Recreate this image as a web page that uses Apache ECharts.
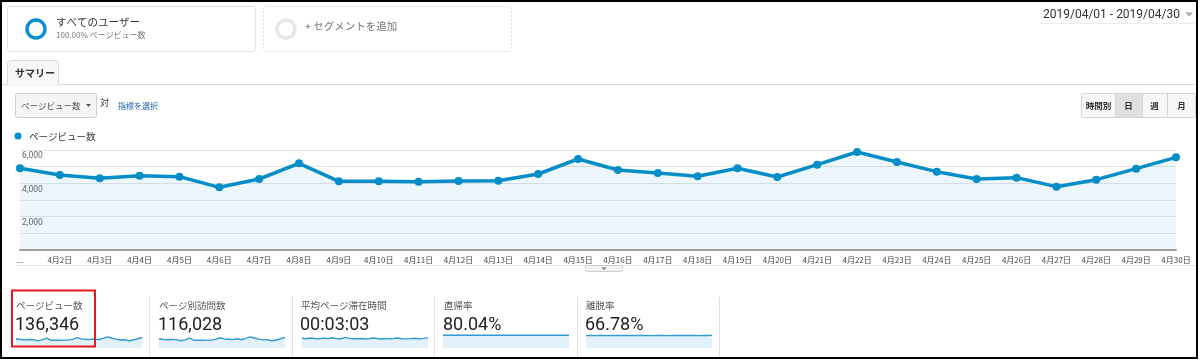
<!DOCTYPE html>
<html><head><meta charset="utf-8">
<script src="https://cdn.jsdelivr.net/npm/echarts@6/dist/echarts.min.js"></script>
<style>html,body{margin:0;padding:0;background:#fff}#c{width:1200px;height:360px}</style>
</head><body><div id="c"></div>
<script>
// ---- data ----
var days = ['4月1日','4月2日','4月3日','4月4日','4月5日','4月6日','4月7日','4月8日','4月9日','4月10日',
  '4月11日','4月12日','4月13日','4月14日','4月15日','4月16日','4月17日','4月18日','4月19日','4月20日',
  '4月21日','4月22日','4月23日','4月24日','4月25日','4月26日','4月27日','4月28日','4月29日','4月30日'];
var pageViews = [4900,4500,4300,4460,4400,3760,4260,5200,4120,4120,
  4100,4140,4160,4560,5460,4800,4620,4420,4900,4380,
  5120,5880,5280,4700,4260,4340,3800,4220,4880,5560];
var uniquePageViews = [4150,3840,3680,3800,3760,3240,3640,4400,3510,3500,
  3490,3530,3550,3880,4620,4080,3930,3770,4160,3730,
  4350,4980,4480,4010,3640,3700,3250,3600,4150,4720];
var avgTimeSec = [185,176,190,180,172,186,178,195,178,175,
  200,182,176,174,180,168,188,184,170,176,
  172,180,190,176,172,178,185,176,182,192];
var bounceRate = [79.8,80.0,80.1,80.0,79.9,80.1,80.0,80.2,80.0,79.9,
  80.0,80.1,80.0,80.1,80.0,79.9,80.0,80.1,80.0,79.9,
  80.0,80.1,80.0,80.1,80.0,80.2,80.1,80.3,80.4,80.5];
var exitRate = [66.2,66.8,66.5,67.0,66.9,66.4,66.8,67.2,66.6,66.8,
  66.7,66.9,66.6,67.0,66.8,66.5,66.7,67.1,66.6,66.4,
  66.7,66.9,66.6,66.8,67.3,66.9,66.5,66.7,67.0,67.4];
var yTicks = [0,2000,4000,6000];
var cardTitles = ['ページビュー数','ページ別訪問数','平均ページ滞在時間','直帰率','離脱率'];
var cardValues = ['136,346','116,028','00:03:03','80.04%','66.78%'];
var periodButtons = ['時間別','日','週','月'];

// ---- layout ----
var FONT = "Roboto, 'Noto Sans CJK JP', sans-serif";
var JP = "'Noto Sans CJK JP', Roboto, sans-serif";
var BLUE = '#058dc7';
var sparkData = [pageViews, uniquePageViews, avgTimeSec, bounceRate, exitRate];
var sparkMax = [7400, 6300, 265, 88, 75];
var sparkLeft = [16, 159, 302, 443, 586];
var cardX = [15, 158, 300, 443, 585];
var sepX = [149, 292, 434, 577, 719];

var grids = [{left: 20, right: 24, top: 150, bottom: 110}];
var xAxes = [{
  type: 'category', data: days, boundaryGap: false, gridIndex: 0,
  axisLine: {lineStyle: {color: '#a0a0a0', width: 2}},
  axisTick: {show: false},
  axisLabel: {interval: 0, fontSize: 8, color: '#444', fontFamily: JP, margin: 6,
    formatter: function (v, i) { return i === 0 ? '...' : v; }}
}];
var yAxes = [{
  type: 'value', min: 0, max: 6000, interval: 1000, gridIndex: 0,
  axisLine: {show: false}, axisTick: {show: false},
  splitLine: {lineStyle: {color: '#e4e4e4'}},
  axisLabel: {inside: true, margin: 2, verticalAlign: 'top', padding: [2,0,0,0],
    fontSize: 8.5, color: '#666', fontFamily: FONT, showMinLabel: false,
    formatter: function (v) { return yTicks.indexOf(v) > 0 ? v.toLocaleString('en-US') : ''; }}
}];
var series = [{
  type: 'line', data: pageViews, xAxisIndex: 0, yAxisIndex: 0,
  symbol: 'circle', symbolSize: 8, showSymbol: true,
  lineStyle: {color: BLUE, width: 3.5}, itemStyle: {color: BLUE},
  areaStyle: {color: 'rgba(5,141,199,0.1)'}, silent: true, animation: false
}];
for (var i = 0; i < 5; i++) {
  grids.push({left: sparkLeft[i], width: 126, top: 334, height: 14});
  xAxes.push({type: 'category', gridIndex: i + 1, data: days, boundaryGap: false, show: false});
  yAxes.push({type: 'value', gridIndex: i + 1, min: 0, max: sparkMax[i], show: false, splitLine: {show: false}});
  series.push({type: 'line', data: sparkData[i], xAxisIndex: i + 1, yAxisIndex: i + 1,
    showSymbol: false, lineStyle: {color: '#2f9ad5', width: 1.4},
    areaStyle: {color: '#e2f1f9', opacity: 1}, silent: true, animation: false});
}

function txt(x, y, t, size, color, opts) {
  opts = opts || {};
  return {type: 'text', z: 25, style: {x: x, y: y, text: t, fill: color,
    font: (opts.weight || 'normal') + ' ' + size + 'px ' + (opts.family || JP),
    textAlign: opts.align || 'left', textVerticalAlign: 'middle'}};
}
var g = [];
// outer border
g.push({type: 'rect', z: 20, shape: {x: 1, y: 1, width: 1196, height: 357}, style: {fill: 'none', stroke: '#000', lineWidth: 2}});
// segment boxes
g.push({type: 'rect', z: 5, shape: {x: 7.5, y: 6.5, width: 248, height: 45, r: 3}, style: {fill: '#fff', stroke: '#e2e2e2', lineWidth: 1}});
g.push({type: 'circle', z: 10, shape: {cx: 36, cy: 29, r: 9}, style: {fill: 'none', stroke: '#0b8fcf', lineWidth: 3.5}});
g.push(txt(56, 22, 'すべてのユーザー', 10.5, '#333'));
g.push(txt(56, 34.5, '100.00% ページビュー数', 8, '#777'));
g.push({type: 'rect', z: 5, shape: {x: 263.5, y: 6.5, width: 248, height: 45, r: 3}, style: {fill: '#fff', stroke: '#dcdcdc', lineWidth: 1, lineDash: [2, 2]}});
g.push({type: 'circle', z: 10, shape: {cx: 286, cy: 29, r: 9}, style: {fill: 'none', stroke: '#e6e6e6', lineWidth: 3.5}});
g.push(txt(305, 26, '+ セグメントを追加', 10.5, '#777'));
// date range
g.push(txt(1043, 14.5, '2019/04/01 - 2019/04/30', 12, '#333', {family: FONT}));
g.push({type: 'polygon', z: 10, shape: {points: [[1185, 12.5], [1193, 12.5], [1189, 16.5]]}, style: {fill: '#aaa'}});
g.push({type: 'rect', z: 10, shape: {x: 1041, y: 23, width: 154, height: 1}, style: {fill: '#ececec'}});
// tab
g.push({type: 'rect', z: 10, shape: {x: 0, y: 84, width: 1197, height: 1}, style: {fill: '#d9d9d9'}});
g.push({type: 'rect', z: 11, shape: {x: 7.5, y: 60.5, width: 51, height: 24.5, r: [3, 3, 0, 0]}, style: {fill: '#f7f7f7', stroke: '#d9d9d9', lineWidth: 1}});
g.push({type: 'rect', z: 12, shape: {x: 8, y: 84, width: 50, height: 1.5}, style: {fill: '#f7f7f7'}});
g.push(txt(15, 73, 'サマリー', 10, '#333', {weight: 'bold'}));
// dropdown
g.push({type: 'rect', z: 10, shape: {x: 15.5, y: 93.5, width: 81, height: 24, r: 2}, style: {fill: '#f5f5f5', stroke: '#d0d0d0', lineWidth: 1}});
g.push(txt(21, 105.5, 'ページビュー数', 8.5, '#555'));
g.push({type: 'polygon', z: 11, shape: {points: [[86, 104], [91, 104], [88.5, 107]]}, style: {fill: '#555'}});
g.push(txt(100, 102.5, '対', 9, '#333'));
g.push(txt(118, 105.5, '指標を選択', 8, '#1f64a8'));
// period buttons
var bx = [1082, 1115, 1142, 1167, 1196];
g.push({type: 'rect', z: 10, shape: {x: 1081.5, y: 93.5, width: 114, height: 24, r: 2}, style: {fill: '#f7f7f7', stroke: '#d6d6d6', lineWidth: 1}});
g.push({type: 'rect', z: 11, shape: {x: bx[1], y: 94, width: bx[2] - bx[1], height: 23}, style: {fill: '#e0e0e0'}});
for (var k = 0; k < 4; k++) {
  if (k > 0) g.push({type: 'rect', z: 12, shape: {x: bx[k], y: 94, width: 1, height: 23}, style: {fill: '#d6d6d6'}});
  g.push(txt((bx[k] + bx[k + 1]) / 2, 105.5, periodButtons[k], 8.5, '#333', {weight: 'bold', align: 'center'}));
}
// legend
g.push({type: 'circle', z: 10, shape: {cx: 18, cy: 136, r: 3.5}, style: {fill: BLUE}});
g.push(txt(29, 136, 'ページビュー数', 9.5, '#333'));
// line under axis labels + tab
g.push({type: 'rect', z: 10, shape: {x: 16, y: 265, width: 1181, height: 1}, style: {fill: '#e0e0e0'}});
g.push({type: 'rect', z: 11, shape: {x: 585.5, y: 265.5, width: 37, height: 6, r: [0, 0, 2, 2]}, style: {fill: '#f3f3f3', stroke: '#cfcfcf', lineWidth: 1}});
g.push({type: 'polygon', z: 12, shape: {points: [[601.5, 267.5], [606.5, 267.5], [604, 270]]}, style: {fill: '#777'}});
// score cards
for (var j = 0; j < 5; j++) {
  g.push(txt(cardX[j] + 1, 305, cardTitles[j], 9.5, '#555'));
  g.push(txt(cardX[j], 325, cardValues[j], 18, '#222', {family: FONT}));
  g.push({type: 'rect', z: 10, shape: {x: sepX[j], y: 297, width: 1, height: 61}, style: {fill: '#e0e0e0'}});
}
g.push({type: 'rect', z: 30, shape: {x: 12, y: 290.5, width: 83, height: 56}, style: {fill: 'none', stroke: '#e8191e', lineWidth: 2}});

var chart = echarts.init(document.getElementById('c'), null, {renderer: 'canvas'});
chart.setOption({
  animation: false,
  grid: grids, xAxis: xAxes, yAxis: yAxes, series: series,
  graphic: {elements: g}
});
</script></body></html>
